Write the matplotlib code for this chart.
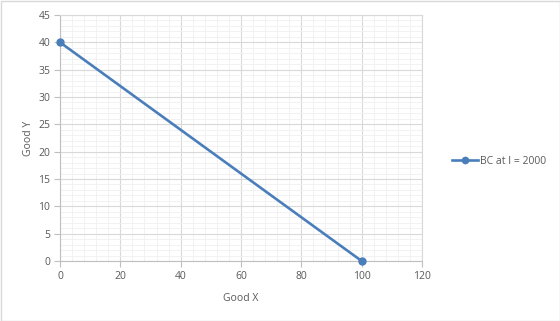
import matplotlib
matplotlib.use("Agg")
import matplotlib.pyplot as plt
from matplotlib.ticker import MultipleLocator
from matplotlib.patches import Rectangle

good_x = [0, 100]
good_y = [40, 0]
series_label = "BC at I = 2000"

plt.rcParams['font.family'] = ['Open Sans', 'DejaVu Sans']
fig = plt.figure(figsize=(5.6, 3.21), dpi=100)
ax = fig.add_axes([60/560, 1-261/321, (422-60)/560, (261-15)/321])

color = '#4a7ebb'
ax.plot(good_x, good_y, color=color, lw=1.9, marker='o', ms=5, label=series_label, zorder=3, clip_on=False)

ax.set_xlim(0, 120)
ax.set_ylim(0, 45)
ax.xaxis.set_major_locator(MultipleLocator(20))
ax.xaxis.set_minor_locator(MultipleLocator(4))
ax.yaxis.set_major_locator(MultipleLocator(5))
ax.yaxis.set_minor_locator(MultipleLocator(1))
ax.grid(which='major', color='#d9d9d9', lw=0.8)
ax.grid(which='minor', color='#f0f0f0', lw=0.6)
ax.set_axisbelow(True)
for s in ['top', 'right']:
    ax.spines[s].set_color('#d9d9d9')
    ax.spines[s].set_linewidth(0.8)
for s in ['left', 'bottom']:
    ax.spines[s].set_color('#bfbfbf')
    ax.spines[s].set_linewidth(0.8)
ax.tick_params(which='major', length=4, color='#bfbfbf', labelcolor='#595959', labelsize=7.5, pad=3)
ax.tick_params(which='minor', length=0)
ax.set_xlabel('Good X', fontsize=7.5, color='#595959', labelpad=8)
ax.set_ylabel('Good Y', fontsize=7.5, color='#595959', labelpad=3)

leg = ax.legend(loc='center left', bbox_to_anchor=(448/560, 160/321), bbox_transform=fig.transFigure,
                frameon=False, fontsize=7.5, handlelength=2.5, handletextpad=0.2, borderaxespad=0,
                markerscale=0.9)
for t in leg.get_texts():
    t.set_color('#595959')

fig.patches.append(Rectangle((0.5/560, 0.5/321), 1-1/560, 1-1/321, transform=fig.transFigure,
                             fill=False, edgecolor='#d9d9d9', lw=1))
fig.savefig('out.png', dpi=100)
